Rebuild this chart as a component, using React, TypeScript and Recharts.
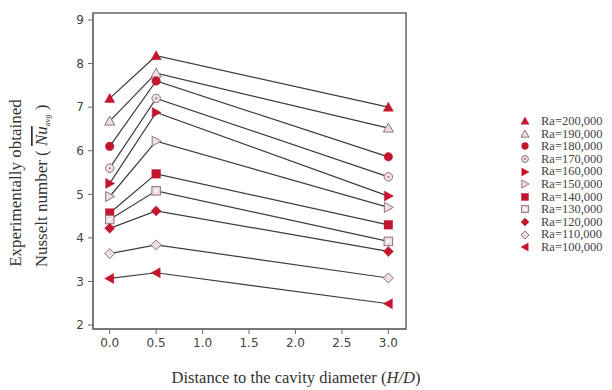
import { LineChart, Line, XAxis, YAxis, Legend, ReferenceArea } from "recharts";

// H/D positions
const hd = [0, 0.5, 3.0];

// Nusselt number per Rayleigh number
const ra200 = [7.2, 8.18, 7.0];
const ra190 = [6.68, 7.78, 6.52];
const ra180 = [6.1, 7.6, 5.86];
const ra170 = [5.6, 7.2, 5.4];
const ra160 = [5.25, 6.88, 4.96];
const ra150 = [4.95, 6.22, 4.7];
const ra140 = [4.57, 5.47, 4.3];
const ra130 = [4.42, 5.08, 3.92];
const ra120 = [4.22, 4.62, 3.69];
const ra110 = [3.64, 3.84, 3.08];
const ra100 = [3.07, 3.2, 2.49];

const xTicks = [0, 0.5, 1, 1.5, 2, 2.5, 3];
const yTicks = [2, 3, 4, 5, 6, 7, 8, 9];

const RED = "#c3162c";
const PALE = "#eedfe1";
const PALE_STROKE = "#8f7479";

type Shape = "triUp" | "circle" | "triRight" | "square" | "diamond" | "triLeft";

const series: { key: string; name: string; values: number[]; shape: Shape; filled: boolean }[] = [
  { key: "ra200", name: "Ra=200,000", values: ra200, shape: "triUp", filled: true },
  { key: "ra190", name: "Ra=190,000", values: ra190, shape: "triUp", filled: false },
  { key: "ra180", name: "Ra=180,000", values: ra180, shape: "circle", filled: true },
  { key: "ra170", name: "Ra=170,000", values: ra170, shape: "circle", filled: false },
  { key: "ra160", name: "Ra=160,000", values: ra160, shape: "triRight", filled: true },
  { key: "ra150", name: "Ra=150,000", values: ra150, shape: "triRight", filled: false },
  { key: "ra140", name: "Ra=140,000", values: ra140, shape: "square", filled: true },
  { key: "ra130", name: "Ra=130,000", values: ra130, shape: "square", filled: false },
  { key: "ra120", name: "Ra=120,000", values: ra120, shape: "diamond", filled: true },
  { key: "ra110", name: "Ra=110,000", values: ra110, shape: "diamond", filled: false },
  { key: "ra100", name: "Ra=100,000", values: ra100, shape: "triLeft", filled: true },
];

const data = hd.map((x, i) => {
  const row: Record<string, number> = { x };
  series.forEach((s) => (row[s.key] = s.values[i]));
  return row;
});

function Marker({ cx, cy, shape, filled, r = 5 }: { cx: number; cy: number; shape: Shape; filled: boolean; r?: number }) {
  const fill = filled ? RED : PALE;
  const stroke = filled ? RED : PALE_STROKE;
  const sw = filled ? 0.5 : 1;
  switch (shape) {
    case "triUp":
      return <polygon points={`${cx},${cy - r} ${cx + r},${cy + r * 0.8} ${cx - r},${cy + r * 0.8}`} fill={fill} stroke={stroke} strokeWidth={sw} />;
    case "triRight":
      return <polygon points={`${cx + r},${cy} ${cx - r * 0.8},${cy - r} ${cx - r * 0.8},${cy + r}`} fill={fill} stroke={stroke} strokeWidth={sw} />;
    case "triLeft":
      return <polygon points={`${cx - r},${cy} ${cx + r * 0.8},${cy - r} ${cx + r * 0.8},${cy + r}`} fill={fill} stroke={stroke} strokeWidth={sw} />;
    case "circle":
      return (
        <g>
          <circle cx={cx} cy={cy} r={r * 0.85} fill={fill} stroke={stroke} strokeWidth={sw} />
          {!filled && <circle cx={cx} cy={cy} r={1} fill={PALE_STROKE} />}
        </g>
      );
    case "square":
      return (
        <g>
          <rect x={cx - r * 0.85} y={cy - r * 0.85} width={r * 1.7} height={r * 1.7} fill={fill} stroke={stroke} strokeWidth={sw} />
          {!filled && <rect x={cx - 1.2} y={cy - 1.2} width={2.4} height={2.4} fill="#fff" />}
        </g>
      );
    case "diamond":
      return <polygon points={`${cx},${cy - r} ${cx + r},${cy} ${cx},${cy + r} ${cx - r},${cy}`} fill={fill} stroke={stroke} strokeWidth={sw} />;
  }
  return null;
}

const serif = "'Liberation Serif', 'DejaVu Serif', serif";
const sans = "'DejaVu Sans', sans-serif";

function LegendBox() {
  return (
    <div style={{ fontFamily: serif, fontSize: 12.5, color: "#444", lineHeight: "12.6px" }}>
      {series.map((s) => (
        <div key={s.key} style={{ display: "flex", alignItems: "center", height: 12.6 }}>
          <svg width={14} height={12} style={{ marginRight: 9 }}>
            <Marker cx={7} cy={6} shape={s.shape} filled={s.filled} r={4} />
          </svg>
          <span>{s.name}</span>
        </div>
      ))}
    </div>
  );
}

function YLabel() {
  return (
    <g fontFamily={serif} fontSize={17} fill="#333">
      <text transform="translate(21,183) rotate(-90)" textAnchor="middle">
        Experimentally obtained
      </text>
      <text transform="translate(47,186) rotate(-90)" textAnchor="middle">
        <tspan>Nusselt number ( </tspan>
        <tspan fontStyle="italic" textDecoration="overline">Nu</tspan>
        <tspan fontSize={8} dy={3} fontStyle="italic">avg</tspan>
        <tspan dy={-3}> )</tspan>
      </text>
    </g>
  );
}

export default function App() {
  return (
    <div style={{ position: "absolute", left: 0, top: 0, width: 612, height: 390, background: "#fff" }}>
      <LineChart width={612} height={390} data={data} margin={{ top: 13, right: 112, bottom: 0, left: 0 }}>
        <XAxis
          dataKey="x"
          type="number"
          domain={[-0.18, 3.19]}
          ticks={xTicks}
          allowDataOverflow
          tickFormatter={(v: number) => v.toFixed(1)}
          height={61}
          stroke="#666"
          tickSize={5}
          tickMargin={4}
          tick={{ fill: "#444", fontSize: 12, fontFamily: sans }}
          label={{
            content: () => (
              <text x={296} y={383} textAnchor="middle" fontFamily={serif} fontSize={16.5} fill="#333">
                Distance to the cavity diameter (<tspan fontStyle="italic">H/D</tspan>)
              </text>
            ),
          }}
        />
        <YAxis
          type="number"
          domain={[1.91, 9.16]}
          ticks={yTicks}
          allowDataOverflow
          width={93}
          stroke="#666"
          tickSize={5}
          tickMargin={4}
          tick={{ fill: "#444", fontSize: 12, fontFamily: sans }}
          label={{ content: () => <YLabel /> }}
        />
        <ReferenceArea x1={-0.18} x2={3.19} y1={1.91} y2={9.16} fill="none" stroke="#666" strokeWidth={1.5} ifOverflow="visible" />
        <Legend
          layout="vertical"
          verticalAlign="top"
          align="right"
          wrapperStyle={{ position: "absolute", left: 518, top: 115, width: 94 }}
          content={() => <LegendBox />}
        />
        {series.map((s) => (
          <Line
            key={s.key}
            dataKey={s.key}
            name={s.name}
            type="linear"
            stroke="#3c3c3c"
            strokeWidth={1.2}
            isAnimationActive={false}
            dot={(p: any) => <Marker key={`${s.key}-${p.index}`} cx={p.cx} cy={p.cy} shape={s.shape} filled={s.filled} />}
            activeDot={false}
          />
        ))}
      </LineChart>
    </div>
  );
}
